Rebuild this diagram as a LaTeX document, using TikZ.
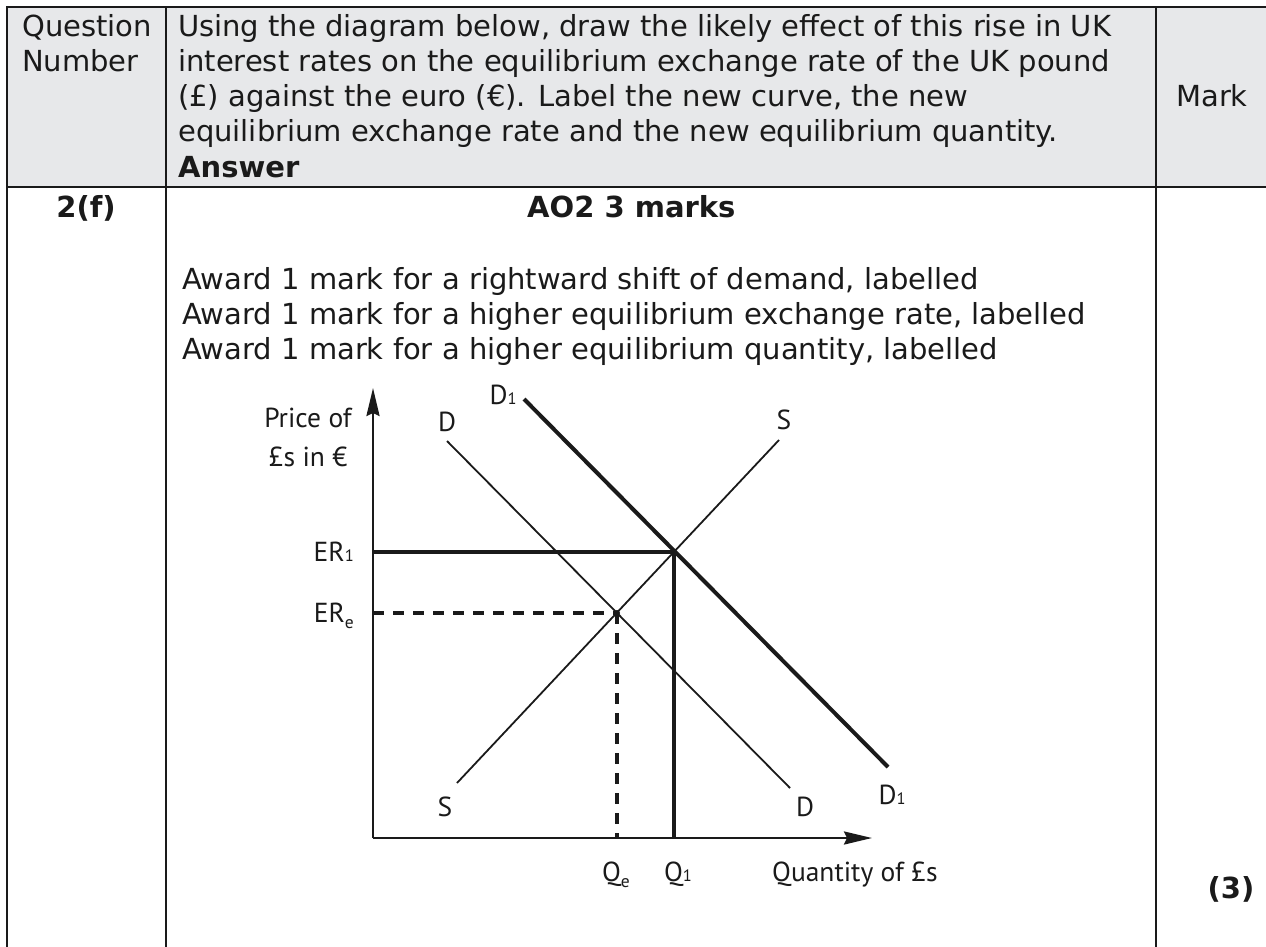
\documentclass[tikz,border=0pt]{standalone}
\usepackage{fontspec}
\setmainfont{DejaVu Sans}
\newfontfamily\diagfont{PT Sans}
\usetikzlibrary{arrows.meta}
\definecolor{hdr}{HTML}{E7E8EA}
\definecolor{ink}{HTML}{1A1A1A}
\newcommand{\smallone}{{\fontsize{16.5}{16.5}\selectfont 1}}
\newcommand{\lowe}{\raisebox{-6pt}{\fontsize{17.5}{17.5}\selectfont e}}
\begin{document}
\begin{tikzpicture}[x=1pt,y=-1pt,
  tbl/.style={line width=2.2pt, draw=ink},
  txt/.style={inner sep=0pt, anchor=base west, font=\fontsize{29}{35}\selectfont, text=ink},
  btxt/.style={inner sep=0pt, anchor=base, font=\fontsize{29}{35}\selectfont\bfseries, text=ink},
  dlab/.style={inner sep=0pt, anchor=base, font=\diagfont\fontsize{27.5}{30}\selectfont, text=ink},
  thincurve/.style={line width=1.8pt, draw=ink},
  thickcurve/.style={line width=4pt, draw=ink},
  guide/.style={line width=4pt, draw=ink},
  dguide/.style={line width=4pt, draw=ink, dash pattern=on 11pt off 9pt},
  axisline/.style={line width=2.6pt, draw=ink, -{Stealth[length=28pt,width=13pt,inset=3pt]}}
]
\useasboundingbox (0,0) rectangle (1266,947);
% table
\fill[hdr] (7,7) rectangle (1270,187);
\draw[tbl] (1270,7) -- (7,7) -- (7,960);
\draw[tbl] (7,187) -- (1270,187);
\draw[tbl] (166,7) -- (166,960);
\draw[tbl] (1156,7) -- (1156,960);
% header texts
\node[txt] (q1) at (22,37) {Question};
\node[txt] (q2) at (22,72) {Number};
\node[txt] (h1) at (178,37) {Using the diagram below, draw the likely effect of this rise in UK};
\node[txt] (h2) at (178,72) {interest rates on the equilibrium exchange rate of the UK pound};
\node[txt] (h3) at (178,107) {(£) against the euro (€). Label the new curve, the new};
\node[txt] (h4) at (178,142) {equilibrium exchange rate and the new equilibrium quantity.};
\node[txt, font=\fontsize{29}{35}\selectfont\bfseries] (h5) at (178,177) {Answer};
\node[txt, anchor=base] (mk) at (1212,107) {Mark};
% body texts
\node[btxt] (qn) at (86,217) {2(f)};
\node[btxt, anchor=base west] (ao) at (527,217) {AO2 3 marks};
\node[txt] (a1) at (182,289) {Award 1 mark for a rightward shift of demand, labelled};
\node[txt] (a2) at (182,324) {Award 1 mark for a higher equilibrium exchange rate, labelled};
\node[txt] (a3) at (182,359) {Award 1 mark for a higher equilibrium quantity, labelled};
\node[btxt] (mks) at (1231,898) {(3)};
% diagram coordinates
\coordinate (O) at (373,838);
\coordinate (Ytip) at (373,388);
\coordinate (Xtip) at (872,838);
\coordinate (E0) at (617,613);
\coordinate (E1) at (674,552);
\coordinate (ERe) at (373,613);
\coordinate (ER1) at (373,552);
\coordinate (Qe) at (617,838);
\coordinate (Q1) at (674,838);
\coordinate (Dtop) at (447,441);
\coordinate (Dbot) at (790,788);
\coordinate (Sbot) at (457,783);
\coordinate (Stop) at (779,440);
\coordinate (D1top) at (524,399);
\coordinate (D1bot) at (888,767);
% curves
\draw[thincurve] (Dtop) -- (Dbot);
\draw[thincurve] (Sbot) -- (Stop);
\draw[thickcurve] (D1top) -- (D1bot);
% guides
\draw[dguide] (ERe) -- (E0);
\draw[dguide] (E0) -- (Qe);
\draw[guide] (ER1) -- (E1);
\draw[guide] (E1) -- (Q1);
\fill[ink] (E0) circle (3pt);
% axes
\draw[axisline] (O) -- (Ytip);
\draw[axisline] (O) -- (Xtip);
% labels
\node[dlab] (ylab1) at (308,427) {Price of};
\node[dlab] (ylab2) at (308,466) {£s in €};
\node[dlab, anchor=base east] (er1) at (354,561) {ER\smallone};
\node[dlab, anchor=base east] (ere) at (354,622) {ER\lowe};
\node[dlab] (lDt) at (447,431) {D};
\node[dlab] (lSt) at (784,429) {S};
\node[dlab] (lD1t) at (503,404) {D\smallone};
\node[dlab] (lSb) at (445,816) {S};
\node[dlab] (lDb) at (805,816) {D};
\node[dlab] (lD1b) at (892,804) {D\smallone};
\node[dlab] (lqe) at (616,881) {Q\lowe};
\node[dlab] (lq1) at (678,881) {Q\smallone};
\node[dlab, anchor=base west] (xlab) at (772,881) {Quantity of £s};
\end{tikzpicture}
\end{document}
